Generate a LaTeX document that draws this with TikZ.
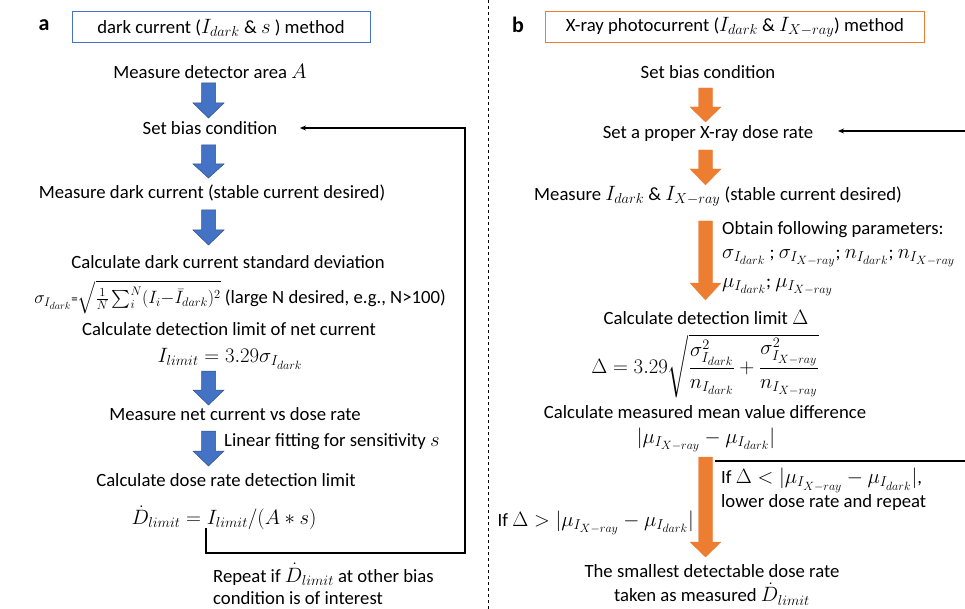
\documentclass[tikz,border=0pt]{standalone}
\usepackage{fontspec}
\setmainfont{Carlito}
\usepackage{amsmath}
\DeclareMathSizes{18.7}{21.5}{15.5}{12}
\usetikzlibrary{arrows.meta,calc}
\definecolor{cblue}{HTML}{4472C4}
\definecolor{cbluedark}{HTML}{2F528F}
\definecolor{corange}{HTML}{ED7D31}
\newcommand\blockarr[5]{% style, x, top, headstart, tip
  \filldraw[#1] (#2-7,#3) -- (#2+7,#3) -- (#2+7,#4) -- (#2+15.5,#4) -- (#2,#5) -- (#2-15.5,#4) -- (#2-7,#4) -- cycle;}
\begin{document}
\begin{tikzpicture}[x=1pt,y=-1pt,
  every node/.style={font=\fontsize{18.7}{22}\selectfont, inner sep=0pt},
  panel/.style={font=\fontsize{22}{24}\selectfont\bfseries},
  titlebox/.style={draw, line width=1pt, minimum height=31pt, inner xsep=8pt},
  bluearr/.style={fill=cblue, draw=cbluedark, line width=0.5pt},
  orarr/.style={fill=corange, draw=corange, line width=0.3pt},
  fb/.style={draw=black, line width=1.6pt},
  fbarr/.style={draw=black, line width=1.2pt, -{Stealth[length=6pt,width=5pt]}},
  divider/.style={draw=black, line width=0.8pt, dash pattern=on 3pt off 3pt}
]
\useasboundingbox (0,0) rectangle (965,609);
% divider
\draw[divider] (488,0) -- (488,609);

% ===== panel a =====
\node[panel] (pa) at (44,25) {a};
\node[titlebox, draw=cblue, minimum width=298pt] (ta) at (221,27.5) {dark current ($I_{dark}$ \& $s$ ) method};
\node (a1) at (210,71) {Measure detector area $A$};
\node (a2) at (210,128) {Set bias condition};
\node (a3) at (212,193) {Measure dark current (stable current desired)};
\node (a4) at (228,262) {Calculate dark current standard deviation};
\node (a5) at (240,297) {\scalebox{0.86}{$\sigma_{I_{dark}}$}{\fontsize{13}{14}\selectfont=}\scalebox{0.86}{$\sqrt{\frac{1}{N}\sum_i^N (I_i{-}\bar{I}_{dark})^2}$} (large N desired, e.g., N>100)};
\node (a6) at (229,329) {Calculate detection limit of net current};
\node (a7) at (230,359) {$I_{limit} = 3.29\sigma_{I_{dark}}$};
\node (a8) at (235,414) {Measure net current vs dose rate};
\node[anchor=west] (a9) at (224,442) {Linear fitting for sensitivity $s$};
\node (a10) at (226,480) {Calculate dose rate detection limit};
\node (a11) at (224,518) {$\dot{D}_{limit} = I_{limit}/(A*s)$};
\node[anchor=north west, align=left, font=\fontsize{18.7}{22}\selectfont] (a12) at (213,563) {Repeat if $\dot{D}_{limit}$ at other bias\\condition is of interest};

\blockarr{bluearr}{208.5}{83}{103}{118}
\blockarr{bluearr}{208.5}{145}{164}{178}
\blockarr{bluearr}{208.5}{210}{230}{245}
\blockarr{bluearr}{208.5}{371}{390}{405}
\blockarr{bluearr}{208.5}{431}{451}{466}

\coordinate (afb0) at (206,528);
\coordinate (afb1) at (206,553);
\coordinate (afb2) at (465,553);
\coordinate (afb3) at (465,128);
\coordinate (afb4) at (300,128);
\draw[fb] (afb0) -- (afb1) -- (afb2) -- (afb3) -- ($(afb4)+(4,0)$);
\draw[fbarr] ($(afb4)+(6,0)$) -- (afb4);

% ===== panel b =====
\node[panel] (pb) at (518,25) {b};
\node[titlebox, draw=corange, minimum width=379pt] (tb) at (735,27.5) {X-ray photocurrent ($I_{dark}$ \& $I_{X-ray}$) method};
\node (b1) at (708,72) {Set bias condition};
\node (b2) at (708,134) {Set a proper X-ray dose rate};
\node (b3) at (718,196) {Measure $I_{dark}$ \& $I_{X-ray}$ (stable current desired)};
\node[anchor=west] (b4) at (722,230) {Obtain following parameters:};
\node[anchor=west] (b5) at (722,258) {$\sigma_{I_{dark}}$ ; $\sigma_{I_{X-ray}}$; $n_{I_{dark}}$; $n_{I_{X-ray}}$};
\node[anchor=west] (b6) at (722,287) {$\mu_{I_{dark}}$; $\mu_{I_{X-ray}}$};
\node (b7) at (706,317) {Calculate detection limit $\Delta$};
\node (b8) at (705,366) {$\Delta = 3.29\sqrt{\dfrac{\sigma^2_{I_{dark}}}{n_{I_{dark}}} + \dfrac{\sigma^2_{I_{X-ray}}}{n_{I_{X-ray}}}}$};
\node (b9) at (705,412) {Calculate measured mean value difference};
\node (b10) at (706,440) {$|\mu_{I_{X-ray}} - \mu_{I_{dark}}|$};
\node[anchor=north west, align=left, font=\fontsize{18.7}{24}\selectfont] (b11) at (721,468) {If $\Delta < |\mu_{I_{X-ray}} - \mu_{I_{dark}}|$,\\lower dose rate and repeat};
\node[anchor=east] (b12) at (694,523) {If $\Delta > |\mu_{I_{X-ray}} - \mu_{I_{dark}}|$};
\node[align=center, font=\fontsize{18.7}{24}\selectfont] (b13) at (712,585) {The smallest detectable dose rate\\taken as measured $\dot{D}_{limit}$};

\blockarr{orarr}{705.5}{88}{107}{122}
\blockarr{orarr}{705.5}{150}{169}{185}
\blockarr{orarr}{705.5}{221}{283}{300}
\blockarr{orarr}{705.5}{457}{542}{557}

\coordinate (bfb0) at (715,461);
\coordinate (bfb1) at (980,461);
\coordinate (bfb2) at (980,131);
\coordinate (bfb3) at (838,131);
\draw[fb] (bfb0) -- (bfb1) -- (bfb2) -- ($(bfb3)+(4,0)$);
\draw[fbarr] ($(bfb3)+(6,0)$) -- (bfb3);
\end{tikzpicture}
\end{document}
